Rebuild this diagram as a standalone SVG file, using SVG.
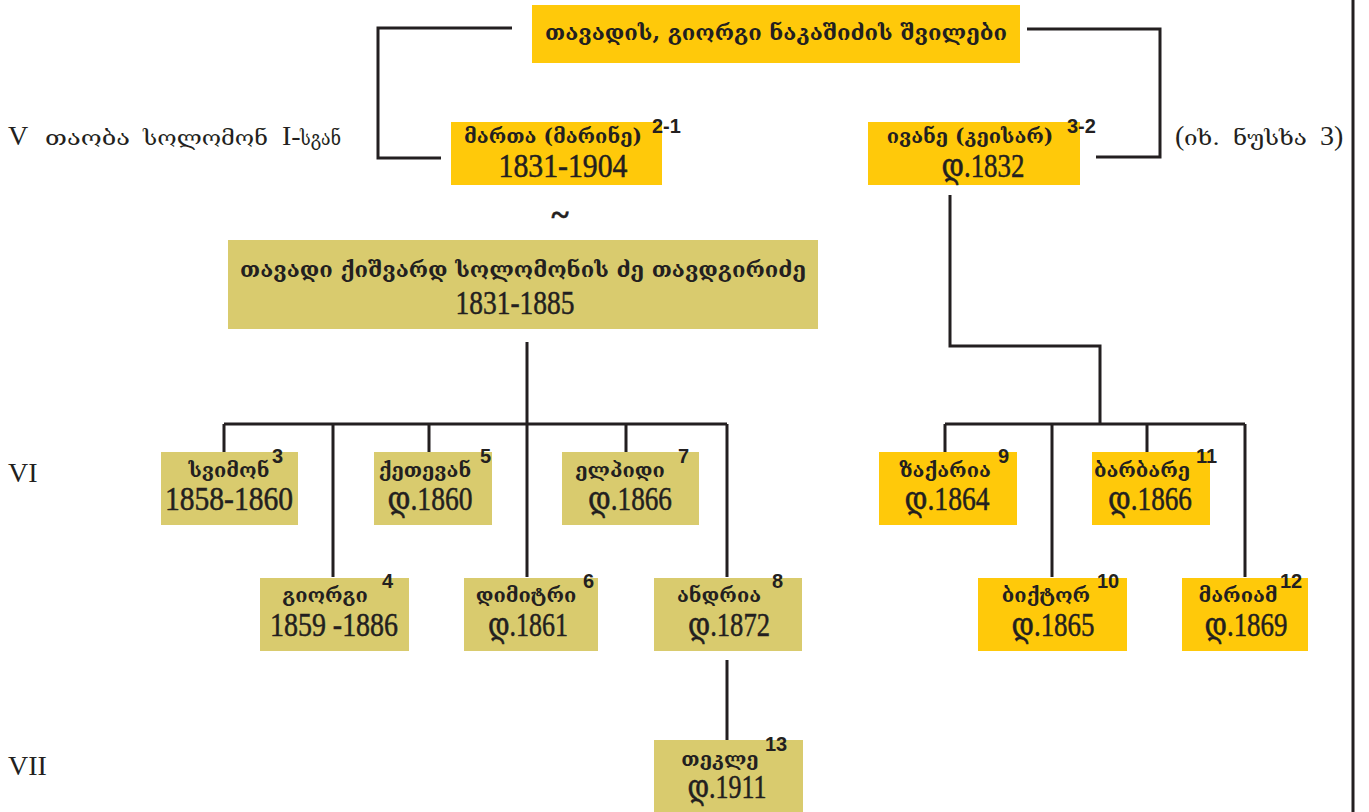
<svg xmlns="http://www.w3.org/2000/svg" width="1369" height="812" viewBox="0 0 1369 812">
<style>
.y{fill:#FFC90A}
.k{fill:#D9CB6E}
.ln{fill:none;stroke:#231F20;stroke-width:3}
.ge{font-family:"DejaVu Serif","DejaVu Sans",serif;fill:#231F20;text-anchor:middle}
.gn{font-size:20px}
.num{font-family:"Liberation Serif","Times New Roman","DejaVu Serif",serif;font-size:33px;fill:#231F20;stroke:#231F20;stroke-width:0.5;text-anchor:middle}
.sup{font-family:"Liberation Sans",Arial,sans-serif;font-weight:bold;font-size:20px;fill:#231F20}
.lvl{font-family:"Liberation Serif","DejaVu Serif",serif;font-size:28px;fill:#231F20}
.lg{font-family:"DejaVu Serif","DejaVu Sans",serif;font-size:21px;fill:#231F20}
</style>
<rect width="1369" height="812" fill="#fff"/>
<g id="connectors">
<path class="ln" d="M512,28 H378 V158 H441"/>
<path class="ln" d="M1027,29 H1160 V157 H1096"/>
<path class="ln" d="M1353,0 V812"/>
<path class="ln" d="M527,342 V424 M224,424 H727 M224,424 V452 M333,424 V577 M429,424 V452 M527,424 V577 M626,424 V452 M727,424 V577 M727,660 V740"/>
<path class="ln" d="M950,195 V346 H1100 V424 M945,424 H1245 M945,424 V452 M1052,424 V577 M1147,424 V452 M1245,424 V577"/>
</g>
<g id="title">
<rect class="y" x="532" y="5" width="488" height="58"/>
<text class="ge" x="776" y="40" font-size="22" font-weight="bold">თავადის, გიორგი  ნაკაშიძის  შვილები</text>
</g>
<g id="levels">
<text class="lvl" x="8" y="145">V</text>
<text class="lg" x="45" y="145" textLength="85" lengthAdjust="spacingAndGlyphs">თაობა</text>
<text class="lg" x="143" y="145" textLength="125" lengthAdjust="spacingAndGlyphs">სოლომონ</text>
<text class="lvl" x="282" y="145">I-</text>
<text class="lg" x="300" y="145" textLength="41" lengthAdjust="spacingAndGlyphs">სგან</text>
<text class="lvl" x="1175" y="145">(</text>
<text class="lg" x="1184" y="145" textLength="36" lengthAdjust="spacingAndGlyphs">იხ.</text>
<text class="lg" x="1233" y="145" textLength="74" lengthAdjust="spacingAndGlyphs">ნუსხა</text>
<text class="lvl" x="1320" y="145">3)</text>
<text class="lvl" x="8" y="482">VI</text>
<text class="lvl" x="8" y="775">VII</text>
</g>
<g id="marta">
<rect class="y" x="451" y="122" width="211" height="63"/>
<text class="ge gn" x="553" y="143" font-weight="bold">მართა  (მარინე)</text>
<text class="num" x="563" y="177" textLength="129" lengthAdjust="spacingAndGlyphs">1831-1904</text>
<text class="sup" x="652" y="133">2-1</text>
</g>
<g id="tilde"><text class="num" x="560" y="226" font-size="40" font-weight="bold">~</text></g>
<g id="ivane">
<rect class="y" x="868" y="122" width="212" height="63"/>
<text class="ge gn" x="970" y="143" font-weight="bold">ივანე  (კეისარ)</text>
<text class="num" x="983" y="177" textLength="83" lengthAdjust="spacingAndGlyphs">დ.1832</text>
<text class="sup" x="1067" y="133">3-2</text>
</g>
<g id="kishvard">
<rect class="k" x="228" y="240" width="590" height="89"/>
<text class="ge" x="523" y="277" font-size="22" font-weight="bold">თავადი  ქიშვარდ  სოლომონის  ძე  თავდგირიძე</text>
<text class="num" x="515" y="314" font-size="31" textLength="119" lengthAdjust="spacingAndGlyphs">1831-1885</text>
</g>
<g id="svimon">
<rect class="k" x="161" y="452" width="137" height="73"/>
<text class="ge gn" x="229" y="477" font-weight="bold">სვიმონ</text>
<text class="num" x="229" y="510" textLength="128" lengthAdjust="spacingAndGlyphs">1858-1860</text>
<text class="sup" x="272" y="463">3</text>
</g>
<g id="ketevan">
<rect class="k" x="374" y="452" width="118" height="73"/>
<text class="ge gn" x="425" y="477" font-weight="bold">ქეთევან</text>
<text class="num" x="430" y="510" textLength="85" lengthAdjust="spacingAndGlyphs">დ.1860</text>
<text class="sup" x="480" y="463">5</text>
</g>
<g id="elpidi">
<rect class="k" x="562" y="452" width="137" height="73"/>
<text class="ge gn" x="620" y="477" font-weight="bold">ელპიდი</text>
<text class="num" x="630" y="510" textLength="84" lengthAdjust="spacingAndGlyphs">დ.1866</text>
<text class="sup" x="678" y="463">7</text>
</g>
<g id="zakaria">
<rect class="y" x="879" y="452" width="138" height="73"/>
<text class="ge gn" x="945" y="477" font-weight="bold">ზაქარია</text>
<text class="num" x="947" y="510" textLength="85" lengthAdjust="spacingAndGlyphs">დ.1864</text>
<text class="sup" x="998" y="463">9</text>
</g>
<g id="barbare">
<rect class="y" x="1092" y="452" width="118" height="73"/>
<text class="ge gn" x="1142" y="477" font-weight="bold">ბარბარე</text>
<text class="num" x="1150" y="510" textLength="84" lengthAdjust="spacingAndGlyphs">დ.1866</text>
<text class="sup" x="1196" y="463">11</text>
</g>
<g id="giorgi">
<rect class="k" x="260" y="578" width="149" height="73"/>
<text class="ge gn" x="325" y="602" font-weight="bold">გიორგი</text>
<text class="num" x="334" y="636" textLength="128" lengthAdjust="spacingAndGlyphs">1859 -1886</text>
<text class="sup" x="382" y="588">4</text>
</g>
<g id="dimitri">
<rect class="k" x="464" y="578" width="134" height="73"/>
<text class="ge gn" x="526" y="602" font-weight="bold">დიმიტრი</text>
<text class="num" x="528" y="636" textLength="80" lengthAdjust="spacingAndGlyphs">დ.1861</text>
<text class="sup" x="583" y="588">6</text>
</g>
<g id="andria">
<rect class="k" x="654" y="578" width="148" height="73"/>
<text class="ge gn" x="719" y="602" font-weight="bold">ანდრია</text>
<text class="num" x="729" y="636" textLength="82" lengthAdjust="spacingAndGlyphs">დ.1872</text>
<text class="sup" x="772" y="588">8</text>
</g>
<g id="viktor">
<rect class="y" x="978" y="578" width="149" height="73"/>
<text class="ge gn" x="1046" y="602" font-weight="bold">ბიქტორ</text>
<text class="num" x="1053" y="636" textLength="83" lengthAdjust="spacingAndGlyphs">დ.1865</text>
<text class="sup" x="1097" y="588">10</text>
</g>
<g id="mariam">
<rect class="y" x="1182" y="578" width="126" height="73"/>
<text class="ge gn" x="1238" y="602" font-weight="bold">მარიამ</text>
<text class="num" x="1246" y="636" textLength="83" lengthAdjust="spacingAndGlyphs">დ.1869</text>
<text class="sup" x="1280" y="588">12</text>
</g>
<g id="tekle">
<rect class="k" x="654" y="740" width="149" height="72"/>
<text class="ge gn" x="720" y="766" font-weight="bold">თეკლე</text>
<text class="num" x="727" y="798" textLength="79" lengthAdjust="spacingAndGlyphs">დ.1911</text>
<text class="sup" x="765" y="751">13</text>
</g>
</svg>
